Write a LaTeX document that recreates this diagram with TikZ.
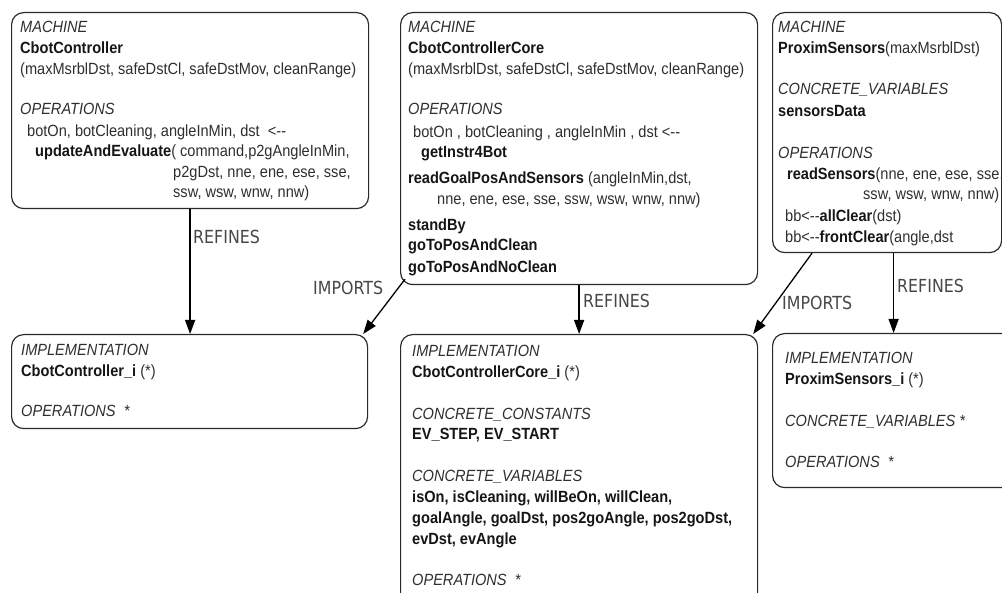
\documentclass[tikz,border=0pt]{standalone}
\usepackage{fontspec}
\setmainfont[FakeStretch=0.9]{Liberation Sans}
\newfontfamily\lblfont[FakeStretch=0.88]{DejaVu Sans}
\usetikzlibrary{arrows.meta,calc}
\definecolor{txt}{HTML}{2E2E2E}
\definecolor{bld}{HTML}{151515}
\definecolor{lbl}{HTML}{474747}
\definecolor{brd}{HTML}{2A2A2A}
\begin{document}
\begin{tikzpicture}[x=1pt,y=-1pt,
  box/.style={draw=brd, line width=1.2pt, rounded corners=12pt, inner sep=0pt, anchor=north west},
  lt/.style={anchor=base west, inner sep=0pt, text=txt, font=\fontsize{16.2}{20}\selectfont},
  lab/.style={anchor=base west, inner sep=0pt, text=lbl, font=\lblfont\fontsize{18}{20}\selectfont},
  arr/.style={line width=1.3pt, draw=black, -{Triangle[length=14pt,width=10pt]}}]
\useasboundingbox (0,0) rectangle (1002,593);
\clip (0,0) rectangle (1002,593);
% boxes
\node[box, minimum width=357pt, minimum height=196pt] (m1) at (11,12) {};
\node[box, minimum width=357pt, minimum height=272pt] (m2) at (400,12) {};
\node[box, minimum width=229pt, minimum height=240pt] (m3) at (772,12) {};
\node[box, minimum width=356pt, minimum height=94pt] (i1) at (11,334) {};
\node[box, minimum width=357pt, minimum height=290pt] (i2) at (400,334) {};
\node[box, minimum width=260pt, minimum height=154pt] (i3) at (772,333) {};
% connectors
\draw[arr] (m1.south) -- (m1.south |- i1.north);
\draw[arr] ([xshift=5pt,yshift=6pt]m2.south west) -- ([xshift=-5pt]i1.north east);
\draw[arr] (m2.south) -- (m2.south |- i2.north);
\draw[arr] ([xshift=40pt]m3.south west) -- ([xshift=-5pt]i2.north east);
\draw[arr] ([xshift=6.5pt]m3.south) -- ([xshift=6.5pt]m3.south |- i3.north);
% connector labels
\node[lab] (r1) at (193,244) {REFINES};
\node[lab] (p1) at (313,295) {IMPORTS};
\node[lab] (r2) at (583,308) {REFINES};
\node[lab] (p2) at (782,310) {IMPORTS};
\node[lab] (r3) at (897,293) {REFINES};
% box 1
\node[lt] (a1) at (20,33) {\itshape MACHINE};
\node[lt] (a2) at (20,54) {\color{bld}\bfseries CbotController};
\node[lt] (a3) at (20,75) {(maxMsrblDst, safeDstCl, safeDstMov, cleanRange)};
\node[lt] (a4) at (20,115) {\itshape OPERATIONS};
\node[lt] (a5) at (27,137) {botOn, botCleaning, angleInMin, dst\ \ <{-}{-}};
\node[lt] (a6) at (35,157) {{\color{bld}\bfseries updateAndEvaluate}( command,p2gAngleInMin,};
\node[lt] (a7) at (173,178) {p2gDst, nne, ene, ese, sse,};
\node[lt] (a8) at (173,198) {ssw, wsw, wnw, nnw)};
% box 2
\node[lt] (b1) at (408,33) {\itshape MACHINE};
\node[lt] (b2) at (408,54) {\color{bld}\bfseries CbotControllerCore};
\node[lt] (b3) at (408,75) {(maxMsrblDst, safeDstCl, safeDstMov, cleanRange)};
\node[lt] (b4) at (408,115) {\itshape OPERATIONS};
\node[lt] (b5) at (413,138) {botOn , botCleaning , angleInMin , dst <{-}{-}};
\node[lt] (b6) at (421,158) {\color{bld}\bfseries getInstr4Bot};
\node[lt] (b7) at (408,184) {{\color{bld}\bfseries readGoalPosAndSensors} (angleInMin,dst,};
\node[lt] (b8) at (437,205) {nne, ene, ese, sse, ssw, wsw, wnw, nnw)};
\node[lt] (b9) at (408,231) {\color{bld}\bfseries standBy};
\node[lt] (b10) at (408,251) {\color{bld}\bfseries goToPosAndClean};
\node[lt] (b11) at (408,273) {\color{bld}\bfseries goToPosAndNoClean};
% box 3
\node[lt] (c1) at (778,33) {\itshape MACHINE};
\node[lt] (c2) at (778,54) {{\color{bld}\bfseries ProximSensors}(maxMsrblDst)};
\node[lt] (c3) at (778,95) {\itshape CONCRETE\_VARIABLES};
\node[lt] (c4) at (778,117) {\color{bld}\bfseries sensorsData};
\node[lt] (c5) at (778,159) {\itshape OPERATIONS};
\node[lt] (c6) at (787,180) {{\color{bld}\bfseries readSensors}(nne, ene, ese, sse,};
\node[lt] (c7) at (863,200) {ssw, wsw, wnw, nnw)};
\node[lt] (c8) at (785,222) {bb<{-}{-}{\color{bld}\bfseries allClear}(dst)};
\node[lt] (c9) at (785,243) {bb<{-}{-}{\color{bld}\bfseries frontClear}(angle,dst};
% box 4
\node[lt] (d1) at (21,356) {\itshape IMPLEMENTATION};
\node[lt] (d2) at (21,377) {{\color{bld}\bfseries CbotController\_i} (*)};
\node[lt] (d3) at (21,417) {\itshape OPERATIONS\ \ *};
% box 5
\node[lt] (e1) at (412,357) {\itshape IMPLEMENTATION};
\node[lt] (e2) at (412,378) {{\color{bld}\bfseries CbotControllerCore\_i} (*)};
\node[lt] (e3) at (412,420) {\itshape CONCRETE\_CONSTANTS};
\node[lt] (e4) at (412,440) {\color{bld}\bfseries EV\_STEP, EV\_START};
\node[lt] (e5) at (412,482) {\itshape CONCRETE\_VARIABLES};
\node[lt] (e6) at (412,503) {\color{bld}\bfseries isOn, isCleaning, willBeOn, willClean,};
\node[lt] (e7) at (412,524) {\color{bld}\bfseries goalAngle, goalDst, pos2goAngle, pos2goDst,};
\node[lt] (e8) at (412,544) {\color{bld}\bfseries evDst, evAngle};
\node[lt] (e9) at (412,585) {\itshape OPERATIONS\ \ *};
% box 6
\node[lt] (f1) at (785,364) {\itshape IMPLEMENTATION};
\node[lt] (f2) at (785,385) {{\color{bld}\bfseries ProximSensors\_i} (*)};
\node[lt] (f3) at (785,427) {\itshape CONCRETE\_VARIABLES *};
\node[lt] (f4) at (785,468) {\itshape OPERATIONS\ \ *};
\end{tikzpicture}
\end{document}
